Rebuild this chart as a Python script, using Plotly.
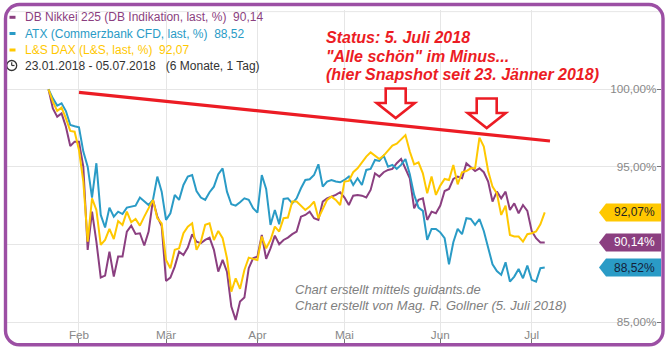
import plotly.graph_objects as go
import pandas as pd

# ---------------- data ----------------
holidays = ["2018-03-30", "2018-04-02", "2018-05-01"]
trading_days = [d for d in pd.bdate_range("2018-01-23", "2018-07-05")
                if d.strftime("%Y-%m-%d") not in holidays]

month_labels = ["Feb", "Mär", "Apr", "Mai", "Jun", "Jul"]
y_ticks = [85, 90, 95, 100]
# the 90,00% label is covered by the Nikkei price tag in the original
y_tick_text = ["85,00%", "", "95,00%", "100,00%"]

nikkei = [100.0, 98.77, 98.24, 98.45, 97.59, 96.35, 96.63, 96.63, 95.0, 89.66,
          92.12, 90.19, 87.88, 88.0, 89.55, 87.94, 89.23, 89.23, 90.84, 91.22,
          90.69, 90.73, 89.94, 90.84, 92.88, 91.8, 91.2, 87.66, 87.88, 88.58,
          89.55, 89.33, 89.81, 90.67, 90.19, 90.09, 90.3, 90.45, 89.66, 88.26,
          89.01, 88.26, 86.01, 85.15, 86.33, 86.59, 88.48, 89.12, 89.23, 90.62,
          89.08, 89.76, 90.58, 90.02, 90.3, 90.45, 90.67, 90.84, 91.8, 91.91,
          92.12, 91.7, 91.59, 92.77, 92.98, 93.09, 93.2, 93.37, 93.03, 92.55,
          93.15, 93.2, 93.15, 93.03, 93.52, 94.59, 94.38, 94.66, 94.81, 94.87,
          95.24, 95.51, 94.91, 94.27, 92.34, 92.88, 92.98, 91.59, 92.12, 92.02,
          92.51, 93.45, 93.58, 94.23, 94.38, 94.27, 95.24, 94.96, 94.74, 94.91,
          94.66, 94.06, 92.77, 93.41, 92.98, 93.41, 92.23, 92.66, 92.02, 92.55,
          92.17, 90.88, 90.41, 90.13, 90.14]

atx = [100.0, 99.42, 98.95, 99.1, 98.6, 97.7, 97.62, 97.55, 95.99, 95.02,
       93.03, 95.24, 91.91, 91.1, 92.38, 91.8, 92.12, 91.97, 92.38, 92.45,
       92.51, 93.03, 92.77, 92.55, 92.88, 94.38, 93.41, 91.59, 92.02, 93.2,
       92.88, 93.84, 94.38, 94.48, 93.45, 93.03, 92.88, 93.37, 93.73, 94.53,
       94.91, 93.41, 92.6, 92.51, 92.73, 92.98, 92.88, 92.34, 92.06, 94.48,
       93.58, 91.27, 92.23, 91.31, 92.94, 92.98, 92.66, 92.98, 93.63, 94.16,
       94.21, 94.48, 95.17, 93.73, 94.06, 94.16, 94.06, 94.01, 94.16, 94.38,
       93.84, 94.27, 93.84, 94.81, 94.87, 95.45, 95.39, 95.73, 95.02, 95.13,
       94.87, 95.13, 95.51, 94.53, 93.2, 92.38, 92.17, 90.3, 91.01, 91.01,
       90.79, 90.41, 88.73, 90.15, 91.01, 90.67, 91.7, 91.65, 91.27, 91.65,
       90.88, 89.81, 88.73, 88.3, 88.05, 88.86, 87.62, 87.94, 88.43, 87.83,
       88.65, 87.73, 87.62, 88.48, 88.52]

dax = [100.0, 99.21, 98.61, 98.82, 98.13, 97.32, 97.27, 96.09, 94.06, 90.19,
       92.98, 92.23, 89.98, 90.3, 91.01, 90.36, 91.52, 91.27, 92.12, 91.44,
       91.65, 91.22, 91.8, 92.34, 92.88, 91.7, 91.37, 89.01, 88.48, 89.66,
       89.76, 90.73, 91.16, 91.37, 89.66, 90.19, 91.27, 91.37, 90.3, 90.88,
       90.41, 89.12, 86.97, 87.83, 87.15, 88.37, 89.16, 89.08, 89.01, 90.52,
       89.76, 90.3, 91.16, 90.84, 91.7, 91.74, 92.77, 92.77, 92.51, 92.23,
       92.45, 92.77, 91.7, 92.34, 92.88, 93.09, 92.88, 92.55, 94.06, 94.1,
       94.66, 94.91, 95.3, 95.67, 95.94, 95.73, 95.51, 95.73, 96.03, 96.37,
       96.5, 96.8, 97.05, 95.99, 95.17, 95.3, 94.59, 93.3, 94.38, 93.2,
       93.8, 94.23, 94.16, 95.13, 93.88, 94.66, 94.74, 94.91, 94.91, 96.89,
       96.31, 94.74, 93.73, 93.3, 91.91, 92.51, 90.62, 90.52, 90.52, 90.19,
       90.67, 90.73, 90.84, 91.31, 92.07]

series_names = ["DB Nikkei 225 (DB Indikation, last, %)",
                "ATX (Commerzbank CFD, last, %)",
                "L&S DAX (L&S, last, %)"]
last_labels = ["90,14", "88,52", "92,07"]
date_text = "23.01.2018 - 05.07.2018\u00a0\u00a0\u00a0(6 Monate, 1 Tag)"
status_lines = ["Status: 5. Juli 2018",
                "\"Alle schön\" im Minus...",
                "(hier Snapshot seit 23. Jänner 2018)"]
credit_lines = ["Chart erstellt mittels guidants.de",
                "Chart erstellt von Mag. R. Gollner (5. Juli 2018)"]

# ---------------- geometry / style ----------------
W, H = 670, 350
ML, MR, MT, MB = 7, 9, 10, 7
PW, PH = W - ML - MR, H - MT - MB
X0PX, DX = 48.5, 4.353          # pixel of first trading day, px per trading day
Y100PX, PXPCT = 89.3, 15.53      # pixel of 100 %, px per percent

C_NK = "#8B3F80"
C_ATX = "#2A9BC6"
C_DAX = "#FFC800"
C_RED = "#EC1C24"
C_FRAME = "#9C4FA4"
GRID = "#E6E6E6"
FONT = "Liberation Sans, Arial, sans-serif"


def pxx(x):
    return (x - ML) / PW


def pxy(y):
    return 1 - (y - MT) / PH


x_idx = list(range(len(trading_days)))
tick_idx = []
seen = set()
for i, d in enumerate(trading_days):
    key = (d.year, d.month)
    if key not in seen:
        seen.add(key)
        if d.month >= 2:
            tick_idx.append(i)

x_range = [(ML - X0PX) / DX, (ML + PW - X0PX) / DX]
y_range = [100 - (MT + PH - Y100PX) / PXPCT, 100 + (Y100PX - MT) / PXPCT]

fig = go.Figure()
for vals, col, name in [(nikkei, C_NK, series_names[0]),
                        (atx, C_ATX, series_names[1]),
                        (dax, C_DAX, series_names[2])]:
    fig.add_trace(go.Scatter(x=x_idx, y=vals, mode="lines", name=name,
                             line=dict(color=col, width=2),
                             hoverinfo="skip", showlegend=False))

shapes = []
annotations = []

# extra top grid line (105 %)
shapes.append(dict(type="line", xref="paper", yref="y", x0=0, x1=1, y0=105, y1=105,
                   line=dict(color=GRID, width=1), layer="below"))

# trend line (red)
shapes.append(dict(type="line", xref="paper", yref="paper",
                   x0=pxx(79), y0=pxy(92.3), x1=pxx(550), y1=pxy(141),
                   line=dict(color=C_RED, width=3.2), layer="above"))


def arrow_path(tipx, tipy, shaft_w, head_w, head_h, total_h):
    top = tipy - total_h
    hy = tipy - head_h
    pts = [(tipx - shaft_w / 2, top), (tipx + shaft_w / 2, top),
           (tipx + shaft_w / 2, hy), (tipx + head_w / 2, hy), (tipx, tipy),
           (tipx - head_w / 2, hy), (tipx - shaft_w / 2, hy)]
    s = "M " + " L ".join(f"{pxx(a):.5f},{pxy(b):.5f}" for a, b in pts) + " Z"
    return s


for tip in [(395.7, 118.0), (486.7, 128.0)]:
    shapes.append(dict(type="path", xref="paper", yref="paper",
                       path=arrow_path(tip[0], tip[1], 20, 38, 15, 29.5),
                       fillcolor="white", line=dict(color=C_RED, width=2.6),
                       layer="above"))

# price tags
tag_h = 18 / PXPCT
for val, col, txtcol, lbl in [(dax[-1], C_DAX, "#222222", last_labels[2]),
                              (nikkei[-1], C_NK, "#FFFFFF", last_labels[0]),
                              (atx[-1], C_ATX, "#14213A", last_labels[1])]:
    p = (f"M {pxx(599):.5f},{val:.4f} L {pxx(606):.5f},{val + tag_h / 2:.4f} "
         f"L 1,{val + tag_h / 2:.4f} L 1,{val - tag_h / 2:.4f} "
         f"L {pxx(606):.5f},{val - tag_h / 2:.4f} Z")
    shapes.append(dict(type="path", xref="paper", yref="y", path=p,
                       fillcolor=col, line=dict(width=0), layer="above"))
    annotations.append(dict(xref="paper", yref="y", x=pxx(657), y=val,
                            xanchor="right", yanchor="middle", showarrow=False,
                            text=lbl + "%", font=dict(family=FONT, size=12, color=txtcol)))

# legend block
leg_y = [17.3, 33.5, 50.0]
for (col, name, lv, yy) in zip([C_NK, C_ATX, C_DAX], series_names, last_labels, leg_y):
    shapes.append(dict(type="line", xref="paper", yref="paper",
                       x0=pxx(9.5), x1=pxx(15.5), y0=pxy(yy), y1=pxy(yy),
                       line=dict(color=col, width=3), layer="above"))
    annotations.append(dict(xref="paper", yref="paper", x=pxx(22.5), y=pxy(yy),
                            xanchor="left", yanchor="middle", showarrow=False,
                            text=name + "\u00a0\u00a0" + lv,
                            font=dict(family=FONT, size=12, color=col)))

# clock icon
cx, cy, r = 11.7, 65.5, 5.0
shapes.append(dict(type="circle", xref="paper", yref="paper",
                   x0=pxx(cx - r), x1=pxx(cx + r), y0=pxy(cy + r), y1=pxy(cy - r),
                   line=dict(color="#333333", width=1.3), layer="above"))
shapes.append(dict(type="line", xref="paper", yref="paper",
                   x0=pxx(cx), y0=pxy(cy), x1=pxx(cx), y1=pxy(cy - 3.3),
                   line=dict(color="#333333", width=1.2), layer="above"))
shapes.append(dict(type="line", xref="paper", yref="paper",
                   x0=pxx(cx), y0=pxy(cy), x1=pxx(cx + 2.8), y1=pxy(cy),
                   line=dict(color="#333333", width=1.2), layer="above"))
annotations.append(dict(xref="paper", yref="paper", x=pxx(22.5), y=pxy(66),
                        xanchor="left", yanchor="middle", showarrow=False,
                        text=date_text,
                        font=dict(family=FONT, size=12, color="#333333")))

# red status text
for txt, yy in zip(status_lines, [37.0, 56.0, 75.0]):
    annotations.append(dict(xref="paper", yref="paper", x=pxx(323.5), y=pxy(yy),
                            xanchor="left", yanchor="middle", showarrow=False,
                            text="<b><i>" + txt + "</i></b>",
                            font=dict(family=FONT, size=16, color=C_RED)))

# credits
for txt, yy in zip(credit_lines, [289.0, 305.0]):
    annotations.append(dict(xref="paper", yref="paper", x=pxx(293), y=pxy(yy),
                            xanchor="left", yanchor="middle", showarrow=False,
                            text="<i>" + txt + "</i>",
                            font=dict(family=FONT, size=13, color="#808080")))

# rounded purple frame
L, R, T, B, rad = 5.5, 663.0, 4.5, 344.8, 14.0
k = 0.5523 * rad


def P(x, y):
    return f"{pxx(x):.5f},{pxy(y):.5f}"


frame = (f"M {P(L + rad, T)} L {P(R - rad, T)} "
         f"C {P(R - rad + k, T)} {P(R, T + rad - k)} {P(R, T + rad)} "
         f"L {P(R, B - rad)} "
         f"C {P(R, B - rad + k)} {P(R - rad + k, B)} {P(R - rad, B)} "
         f"L {P(L + rad, B)} "
         f"C {P(L + rad - k, B)} {P(L, B - rad + k)} {P(L, B - rad)} "
         f"L {P(L, T + rad)} "
         f"C {P(L, T + rad - k)} {P(L + rad - k, T)} {P(L + rad, T)} Z")
shapes.append(dict(type="path", xref="paper", yref="paper", path=frame,
                   line=dict(color=C_FRAME, width=3.4), layer="above"))

fig.update_layout(
    width=W, height=H,
    margin=dict(l=ML, r=MR, t=MT, b=MB, pad=0),
    paper_bgcolor="white", plot_bgcolor="white",
    showlegend=False,
    shapes=shapes, annotations=annotations,
    xaxis=dict(range=x_range, tickmode="array", tickvals=tick_idx, ticktext=month_labels,
               ticklabelposition="inside", ticks="inside", ticklen=4, tickcolor="#777777",
               ticklabelstandoff=-3,
               tickfont=dict(family=FONT, size=11.7, color="#888888"),
               showgrid=True, gridcolor=GRID, gridwidth=1, zeroline=False,
               showline=False, fixedrange=True),
    yaxis=dict(range=y_range, side="right", tickmode="array", tickvals=y_ticks,
               ticktext=y_tick_text, ticklabelposition="inside", ticks="inside",
               ticklen=4, tickcolor="#777777",
               tickfont=dict(family=FONT, size=11.7, color="#888888"),
               showgrid=True, gridcolor=GRID, gridwidth=1, zeroline=False,
               showline=False, fixedrange=True),
)

fig.write_html("out.html")
